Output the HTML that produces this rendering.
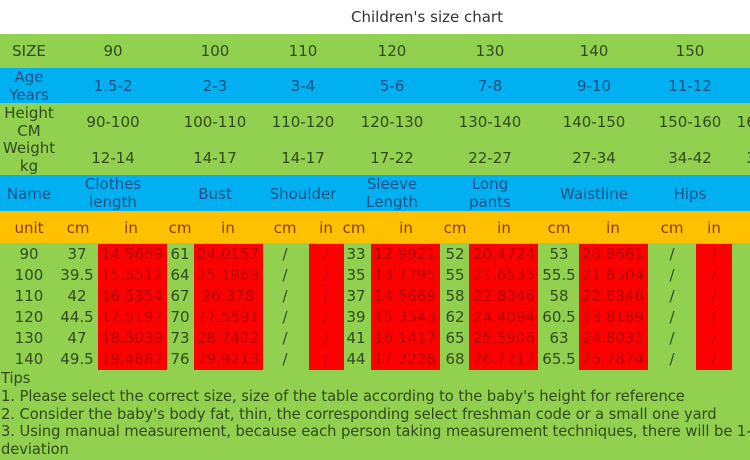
<!DOCTYPE html>
<html><head><meta charset="utf-8"><style>
*{margin:0;padding:0}
html,body{width:750px;height:460px;overflow:hidden}
body{background:#fff;position:relative;font-family:"DejaVu Sans","Liberation Sans",sans-serif;}
#w{position:absolute;left:0;top:0;width:750px;height:460px;overflow:hidden}
.b{position:absolute;left:0;width:750px}
.r{position:absolute;background:#ff0000;top:244px;height:126px}
.t{position:absolute;transform:translate(-50%,-50%);white-space:nowrap;font-size:15px;line-height:18px;text-align:center;letter-spacing:0}
.g{color:#2f4a1c}.u{color:#1d4f86}.o{color:#8a3c00}.d{color:#b00000}
.tip{position:absolute;left:1px;font-size:14.7px;line-height:18px;color:#2f4a1c;white-space:nowrap;letter-spacing:-0.05px}
</style></head><body><div id="w">
<div class="t" style="left:427px;top:17px;color:#333">Children's size chart</div>
<div class="b" style="top:34px;height:34px;background:#92d050"></div>
<div class="b" style="top:68px;height:35px;background:#00b0f0"></div>
<div class="b" style="top:103px;height:72px;background:#92d050"></div>
<div class="b" style="top:175px;height:36px;background:#00b0f0"></div>
<div class="b" style="top:211px;height:32px;background:#ffc000"></div>
<div class="b" style="top:243px;height:217px;background:#92d050"></div>
<div class="r" style="left:98px;width:69px"></div>
<div class="r" style="left:194px;width:69px"></div>
<div class="r" style="left:309px;width:35px"></div>
<div class="r" style="left:371px;width:69px"></div>
<div class="r" style="left:469px;width:69px"></div>
<div class="r" style="left:579px;width:69px"></div>
<div class="r" style="left:696px;width:36px"></div>

<div class="t g" style="left:29px;top:51px">SIZE</div>
<div class="t g" style="left:113px;top:51px">90</div>
<div class="t g" style="left:215px;top:51px">100</div>
<div class="t g" style="left:303px;top:51px">110</div>
<div class="t g" style="left:392px;top:51px">120</div>
<div class="t g" style="left:490px;top:51px">130</div>
<div class="t g" style="left:594px;top:51px">140</div>
<div class="t g" style="left:690px;top:51px">150</div>

<div class="t u" style="left:29px;top:86px">Age<br>Years</div>
<div class="t u" style="left:113px;top:86px">1.5-2</div>
<div class="t u" style="left:215px;top:86px">2-3</div>
<div class="t u" style="left:303px;top:86px">3-4</div>
<div class="t u" style="left:392px;top:86px">5-6</div>
<div class="t u" style="left:490px;top:86px">7-8</div>
<div class="t u" style="left:594px;top:86px">9-10</div>
<div class="t u" style="left:690px;top:86px">11-12</div>
<div class="t u" style="left:756px;top:86px">1</div>

<div class="t g" style="left:29px;top:122px">Height<br>CM</div>
<div class="t g" style="left:113px;top:122px">90-100</div>
<div class="t g" style="left:215px;top:122px">100-110</div>
<div class="t g" style="left:303px;top:122px">110-120</div>
<div class="t g" style="left:392px;top:122px">120-130</div>
<div class="t g" style="left:490px;top:122px">130-140</div>
<div class="t g" style="left:594px;top:122px">140-150</div>
<div class="t g" style="left:690px;top:122px">150-160</div>
<div class="t g" style="left:768px;top:122px">160-170</div>

<div class="t g" style="left:29px;top:157px">Weight<br>kg</div>
<div class="t g" style="left:113px;top:158px">12-14</div>
<div class="t g" style="left:215px;top:158px">14-17</div>
<div class="t g" style="left:303px;top:158px">14-17</div>
<div class="t g" style="left:392px;top:158px">17-22</div>
<div class="t g" style="left:490px;top:158px">22-27</div>
<div class="t g" style="left:594px;top:158px">27-34</div>
<div class="t g" style="left:690px;top:158px">34-42</div>
<div class="t g" style="left:768px;top:158px">38-50</div>

<div class="t u" style="left:29px;top:194px">Name</div>
<div class="t u" style="left:113px;top:193px">Clothes<br>length</div>
<div class="t u" style="left:215px;top:194px">Bust</div>
<div class="t u" style="left:303px;top:194px">Shoulder</div>
<div class="t u" style="left:392px;top:193px">Sleeve<br>Length</div>
<div class="t u" style="left:490px;top:193px">Long<br>pants</div>
<div class="t u" style="left:594px;top:194px">Waistline</div>
<div class="t u" style="left:690px;top:194px">Hips</div>

<div class="t o" style="left:29px;top:228px">unit</div>
<div class="t o" style="left:78px;top:228px">cm</div>
<div class="t o" style="left:131px;top:228px">in</div>
<div class="t o" style="left:180px;top:228px">cm</div>
<div class="t o" style="left:228px;top:228px">in</div>
<div class="t o" style="left:285px;top:228px">cm</div>
<div class="t o" style="left:326px;top:228px">in</div>
<div class="t o" style="left:354px;top:228px">cm</div>
<div class="t o" style="left:406px;top:228px">in</div>
<div class="t o" style="left:455px;top:228px">cm</div>
<div class="t o" style="left:504px;top:228px">in</div>
<div class="t o" style="left:559px;top:228px">cm</div>
<div class="t o" style="left:613px;top:228px">in</div>
<div class="t o" style="left:672px;top:228px">cm</div>
<div class="t o" style="left:714px;top:228px">in</div>

<div class="t g" style="left:29px;top:254px">90</div><div class="t g" style="left:77px;top:254px">37</div><div class="t d" style="left:132px;top:254px">14.5669</div><div class="t g" style="left:180px;top:254px">61</div><div class="t d" style="left:228px;top:254px">24.0157</div><div class="t g" style="left:285px;top:254px">/</div><div class="t d" style="left:326px;top:254px">/</div><div class="t g" style="left:356px;top:254px">33</div><div class="t d" style="left:405px;top:254px">12.9921</div><div class="t g" style="left:455px;top:254px">52</div><div class="t d" style="left:504px;top:254px">20.4724</div><div class="t g" style="left:559px;top:254px">53</div><div class="t d" style="left:613px;top:254px">20.8661</div><div class="t g" style="left:672px;top:254px">/</div><div class="t d" style="left:714px;top:254px">/</div>
<div class="t g" style="left:29px;top:275px">100</div><div class="t g" style="left:77px;top:275px">39.5</div><div class="t d" style="left:132px;top:275px">15.5512</div><div class="t g" style="left:180px;top:275px">64</div><div class="t d" style="left:228px;top:275px">25.1969</div><div class="t g" style="left:285px;top:275px">/</div><div class="t d" style="left:326px;top:275px">/</div><div class="t g" style="left:356px;top:275px">35</div><div class="t d" style="left:405px;top:275px">13.7795</div><div class="t g" style="left:455px;top:275px">55</div><div class="t d" style="left:504px;top:275px">21.6535</div><div class="t g" style="left:559px;top:275px">55.5</div><div class="t d" style="left:613px;top:275px">21.8504</div><div class="t g" style="left:672px;top:275px">/</div><div class="t d" style="left:714px;top:275px">/</div>
<div class="t g" style="left:29px;top:296px">110</div><div class="t g" style="left:77px;top:296px">42</div><div class="t d" style="left:132px;top:296px">16.5354</div><div class="t g" style="left:180px;top:296px">67</div><div class="t d" style="left:228px;top:296px">26.378</div><div class="t g" style="left:285px;top:296px">/</div><div class="t d" style="left:326px;top:296px">/</div><div class="t g" style="left:356px;top:296px">37</div><div class="t d" style="left:405px;top:296px">14.5669</div><div class="t g" style="left:455px;top:296px">58</div><div class="t d" style="left:504px;top:296px">22.8346</div><div class="t g" style="left:559px;top:296px">58</div><div class="t d" style="left:613px;top:296px">22.8346</div><div class="t g" style="left:672px;top:296px">/</div><div class="t d" style="left:714px;top:296px">/</div>
<div class="t g" style="left:29px;top:317px">120</div><div class="t g" style="left:77px;top:317px">44.5</div><div class="t d" style="left:132px;top:317px">17.5197</div><div class="t g" style="left:180px;top:317px">70</div><div class="t d" style="left:228px;top:317px">27.5591</div><div class="t g" style="left:285px;top:317px">/</div><div class="t d" style="left:326px;top:317px">/</div><div class="t g" style="left:356px;top:317px">39</div><div class="t d" style="left:405px;top:317px">15.3543</div><div class="t g" style="left:455px;top:317px">62</div><div class="t d" style="left:504px;top:317px">24.4094</div><div class="t g" style="left:559px;top:317px">60.5</div><div class="t d" style="left:613px;top:317px">23.8189</div><div class="t g" style="left:672px;top:317px">/</div><div class="t d" style="left:714px;top:317px">/</div>
<div class="t g" style="left:29px;top:338px">130</div><div class="t g" style="left:77px;top:338px">47</div><div class="t d" style="left:132px;top:338px">18.5039</div><div class="t g" style="left:180px;top:338px">73</div><div class="t d" style="left:228px;top:338px">28.7402</div><div class="t g" style="left:285px;top:338px">/</div><div class="t d" style="left:326px;top:338px">/</div><div class="t g" style="left:356px;top:338px">41</div><div class="t d" style="left:405px;top:338px">16.1417</div><div class="t g" style="left:455px;top:338px">65</div><div class="t d" style="left:504px;top:338px">25.5906</div><div class="t g" style="left:559px;top:338px">63</div><div class="t d" style="left:613px;top:338px">24.8031</div><div class="t g" style="left:672px;top:338px">/</div><div class="t d" style="left:714px;top:338px">/</div>
<div class="t g" style="left:29px;top:359px">140</div><div class="t g" style="left:77px;top:359px">49.5</div><div class="t d" style="left:132px;top:359px">19.4882</div><div class="t g" style="left:180px;top:359px">76</div><div class="t d" style="left:228px;top:359px">29.9213</div><div class="t g" style="left:285px;top:359px">/</div><div class="t d" style="left:326px;top:359px">/</div><div class="t g" style="left:356px;top:359px">44</div><div class="t d" style="left:405px;top:359px">17.3228</div><div class="t g" style="left:455px;top:359px">68</div><div class="t d" style="left:504px;top:359px">26.7717</div><div class="t g" style="left:559px;top:359px">65.5</div><div class="t d" style="left:613px;top:359px">25.7874</div><div class="t g" style="left:672px;top:359px">/</div><div class="t d" style="left:714px;top:359px">/</div>

<div class="tip" style="top:370px">Tips</div>
<div class="tip" style="top:388px">1. Please select the correct size, size of the table according to the baby's height for reference</div>
<div class="tip" style="top:406px">2. Consider the baby's body fat, thin, the corresponding select freshman code or a small one yard</div>
<div class="tip" style="top:423px">3. Using manual measurement, because each person taking measurement techniques, there will be 1-2cm</div>
<div class="tip" style="top:441px">deviation</div>
</div></body></html>
